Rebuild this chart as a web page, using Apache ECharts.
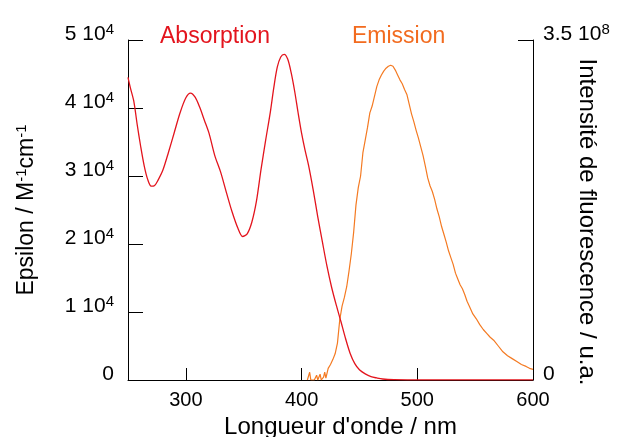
<!DOCTYPE html>
<html><head><meta charset="utf-8">
<script src="https://cdn.jsdelivr.net/npm/echarts@6/dist/echarts.min.js"></script>
<style>html,body{margin:0;padding:0;background:#fff}#c{width:619px;height:437px}</style>
</head><body><div id="c"></div>
<script>
// Absorption (epsilon, M-1 cm-1)
var absWl = [250,252,255,258,261,264,267,270,273,276,280,285,290,295,300,304,308,312,316,320,325,330,335,340,345,349,353,357,361,365,369,373,376,379,382,385,388,391,394,397,400,403,406,410,414,418,422,426,430,434,438,442,446,450,455,460,465,470,480,500,530,560,600];
var absVal = [44500,43000,41000,37500,34300,31500,29500,28500,28600,29400,30800,33500,36400,39300,41500,42200,41600,40100,38200,36300,33000,30600,27600,24700,22300,21100,21500,23200,26300,31000,35300,39400,43000,46000,47500,47900,47200,45200,42500,39300,36300,33800,31600,28000,24000,20300,16700,13600,11000,8600,6100,3900,2400,1500,900,500,300,150,60,30,20,20,20];
// Emission (fluorescence intensity, a.u.)
var emWl = [405,407,408,411,413,414,416,417,419,420,421,423,425,427,429,431,433,435,437,439,441,443,445,447,449,451,453,455,457,459,461,463,465,467,469,471,473,475,477,479,481,483,485,487,489,491,493,495,497,499,501,503,505,507,509,511,513,515,517,519,521,523,525,527,529,531,533,535,537,539,541,543,545,548,551,554,557,560,563,566,570,574,578,582,586,590,594,597,600];
var emVal = [0,0.08e8,0,0,0.05e8,0,0.06e8,0,0.03e8,0.08e8,0.02e8,0.12e8,0.16e8,0.21e8,0.27e8,0.38e8,0.62e8,0.76e8,0.85e8,0.96e8,1.12e8,1.30e8,1.52e8,1.80e8,1.98e8,2.10e8,2.34e8,2.47e8,2.60e8,2.75e8,2.82e8,2.92e8,3.02e8,3.09e8,3.14e8,3.18e8,3.21e8,3.23e8,3.24e8,3.23e8,3.19e8,3.14e8,3.09e8,3.05e8,2.99e8,2.94e8,2.84e8,2.74e8,2.66e8,2.57e8,2.49e8,2.40e8,2.31e8,2.20e8,2.08e8,2.00e8,1.94e8,1.86e8,1.76e8,1.68e8,1.58e8,1.50e8,1.42e8,1.33e8,1.26e8,1.19e8,1.10e8,1.04e8,0.98e8,0.94e8,0.88e8,0.81e8,0.76e8,0.68e8,0.63e8,0.57e8,0.52e8,0.48e8,0.44e8,0.41e8,0.35e8,0.29e8,0.25e8,0.22e8,0.19e8,0.16e8,0.14e8,0.12e8,0.11e8];
var xTicks = [300,400,500,600];
var seriesNames = ['Absorption','Emission'];
var rightAxisName = 'Intensité de fluorescence / u.a.';

var FONT = '"Liberation Sans", Arial, sans-serif';
function zip(a,b){return a.map(function(v,i){return [v,b[i]];});}
var chart = echarts.init(document.getElementById('c'), null, {renderer:'canvas'});
var axisLine = {show:true, lineStyle:{color:'#000', width:1}};
var labRich = {b:{fontSize:21, fontFamily:FONT, color:'#000', lineHeight:24},
               s:{fontSize:15, fontFamily:FONT, color:'#000', verticalAlign:'top', lineHeight:24, padding:[0,0,8,0]}};
chart.setOption({
  animation:false,
  backgroundColor:'#fff',
  grid:{left:128, right:86, top:40, bottom:57, containLabel:false, outerBoundsMode:'none'},
  xAxis:{type:'value', min:250, max:600,
    axisLine:axisLine, splitLine:{show:false},
    axisTick:{show:true, inside:true, length:12, customValues:xTicks, lineStyle:{color:'#000'}},
    axisLabel:{customValues:xTicks, color:'#000', fontSize:20, fontFamily:FONT, margin:10},
    name:"Longueur d'onde / nm", nameLocation:'middle', nameGap:32,
    nameTextStyle:{color:'#000', fontSize:24, fontFamily:FONT, padding:[0,0,0,20]}
  },
  yAxis:[
    {type:'value', position:'left', min:0, max:50000, interval:10000,
      axisLine:axisLine, splitLine:{show:false},
      axisTick:{show:true, inside:true, length:15, lineStyle:{color:'#000'}},
      axisLabel:{color:'#000', margin:14, fontFamily:FONT, padding:[0,0,12,0],
        formatter:function(v){return v===0?'{b|0}':'{b|'+(v/10000)+' 10}{s|4}';},
        rich:labRich},
      name:'{b|Epsilon / M}{s|-1}{b|cm}{s|-1}', nameLocation:'middle', nameGap:88, nameRotate:90,
      nameTextStyle:{rich:{b:{fontSize:23, fontFamily:FONT, color:'#000', lineHeight:26},
        s:{fontSize:15, fontFamily:FONT, color:'#000', verticalAlign:'top', lineHeight:26, padding:[0,0,8,0]}}}
    },
    {type:'value', position:'right', min:0, max:3.5e8, interval:3.5e8,
      axisLine:axisLine, splitLine:{show:false},
      axisTick:{show:true, inside:true, length:15, lineStyle:{color:'#000'}},
      axisLabel:{color:'#000', margin:10, fontFamily:FONT, padding:[0,0,12,0],
        formatter:function(v){return v===0?'{b|0}':'{b|3.5 10}{s|8}';},
        rich:labRich}
    }
  ],
  graphic:[
    {type:'text', left:160, top:25, style:{text:seriesNames[0], fill:'#e3141d', font:'23px '+FONT}},
    {type:'text', left:352, top:25, style:{text:seriesNames[1], fill:'#f26b1f', font:'23px '+FONT}},
    {type:'text', x:587, y:222, rotation:-Math.PI/2,
      style:{text:rightAxisName, fill:'#000', font:'24px '+FONT, align:'center', verticalAlign:'middle'}}
  ],
  series:[
    {name:seriesNames[0], type:'line', yAxisIndex:0, data:zip(absWl,absVal), smooth:0.3, showSymbol:false,
      lineStyle:{color:'#e3141d', width:1.3}, z:3},
    {name:seriesNames[1], type:'line', yAxisIndex:1, data:zip(emWl,emVal), smooth:false, showSymbol:false,
      lineStyle:{color:'#f47a22', width:1.2}, z:2}
  ]
});
</script></body></html>
